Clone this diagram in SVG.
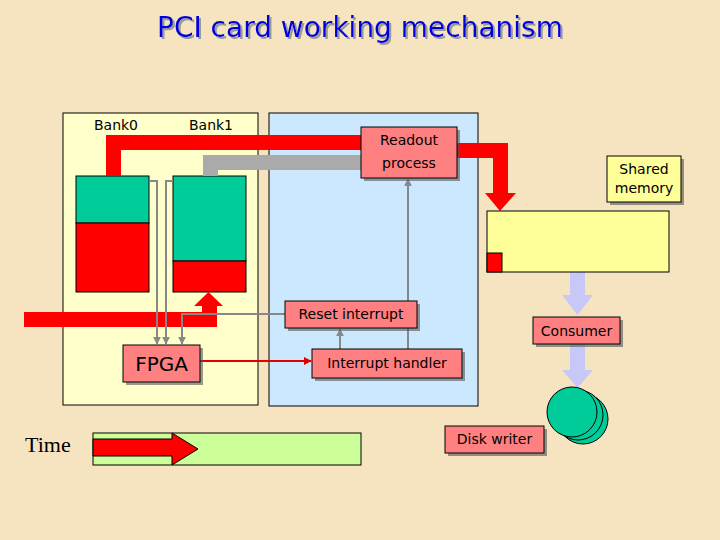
<svg xmlns="http://www.w3.org/2000/svg" width="720" height="540" viewBox="0 0 720 540">
<defs>
<style>
.t{font-family:"DejaVu Sans","Liberation Sans",sans-serif;fill:#000;}
.box{fill:#FF8080;stroke:#000;stroke-width:1;}
.sh{fill:#555;opacity:0.6;}
.gl{fill:none;stroke:#888;stroke-width:2;}
.teal{fill:#00CC99;stroke:#000;stroke-width:1;}
.red{fill:#FF0000;stroke:#000;stroke-width:1;}
</style>
<filter id="tsh" x="-5%" y="-20%" width="110%" height="150%">
<feDropShadow dx="2" dy="2" stdDeviation="0.5" flood-color="#999" flood-opacity="1"/>
</filter>
<marker id="ga" viewBox="0 0 10 10" refX="9" refY="5" markerWidth="4" markerHeight="4" orient="auto"><path d="M0,0 L10,5 L0,10 z" fill="#888"/></marker>
<marker id="ra" viewBox="0 0 10 10" refX="9" refY="5" markerWidth="4" markerHeight="4" orient="auto"><path d="M0,0 L10,5 L0,10 z" fill="#E00000"/></marker>
</defs>
<rect x="0" y="0" width="720" height="540" fill="#F6E4C0"/>
<text x="360" y="37" text-anchor="middle" font-family="DejaVu Sans, sans-serif" font-size="28" fill="#0000DD" filter="url(#tsh)">PCI card working mechanism</text>

<g id="card-panel">
<rect x="63" y="113" width="195" height="292" fill="#FFFFCC" stroke="#000" stroke-width="1"/>
<text class="t" x="116" y="130" text-anchor="middle" font-size="14">Bank0</text>
<text class="t" x="211" y="130" text-anchor="middle" font-size="14">Bank1</text>
</g>
<g id="host-panel">
<rect x="269" y="113" width="209" height="293" fill="#CCE8FF" stroke="#000" stroke-width="1"/>
</g>

<g id="bank0">
<rect class="teal" x="76" y="176" width="73" height="47"/>
<rect class="red" x="76" y="223" width="73" height="69"/>
</g>
<g id="bank1">
<rect class="teal" x="173" y="176" width="73" height="85"/>
<rect class="red" x="173" y="261" width="73" height="31"/>
</g>

<g id="connectors">
<polygon points="106,176 106,135 361,135 361,150 121,150 121,176" fill="#FF0000"/>
<polygon points="457,143 508,143 508,193 516,193 500,211 485,193 493,193 493,158 457,158" fill="#FF0000"/>
<polygon points="203,176 203,155 361,155 361,170 218,170 218,176" fill="#AAAAAA"/>
<polygon points="24,312 202,312 202,306 194,306 208.5,292 223,306 217,306 217,327 24,327" fill="#FF0000"/>
<path class="gl" d="M149,181 H157 V344" marker-end="url(#ga)"/>
<path class="gl" d="M173,181 H166 V344" marker-end="url(#ga)"/>
<path class="gl" d="M285,314 H182 V344" marker-end="url(#ga)"/>
<path class="gl" d="M340,349 V329" marker-end="url(#ga)"/>
<path class="gl" d="M408,349 V179" marker-end="url(#ga)"/>
<path d="M200,361 H311" fill="none" stroke="#E00000" stroke-width="2" marker-end="url(#ra)"/>
<polygon points="570,272 585,272 585,295 593,295 577.5,315 562,295 570,295" fill="#C8C8F8"/>
<polygon points="570,344 585,344 585,370 593,370 577.5,388 562,370 570,370" fill="#C8C8F8"/>
</g>

<g id="readout-process">
<rect class="sh" x="364" y="130" width="96" height="51"/>
<rect class="box" x="361" y="127" width="96" height="51"/>
<text class="t" x="409" y="145" text-anchor="middle" font-size="14">Readout</text>
<text class="t" x="409" y="168" text-anchor="middle" font-size="14">process</text>
</g>

<g id="shared-memory-label">
<rect class="sh" x="610" y="159" width="74" height="46"/>
<rect x="607" y="156" width="74" height="46" fill="#FFFF99" stroke="#000" stroke-width="1"/>
<text class="t" x="644" y="174" text-anchor="middle" font-size="14">Shared</text>
<text class="t" x="644" y="193" text-anchor="middle" font-size="14">memory</text>
</g>

<g id="shared-memory">
<rect x="487" y="211" width="182" height="61" fill="#FFFF99" stroke="#000" stroke-width="1"/>
<rect class="red" x="487" y="253" width="15" height="19"/>
</g>

<g id="consumer">
<rect class="sh" x="536" y="320" width="87" height="27"/>
<rect class="box" x="533" y="317" width="87" height="27"/>
<text class="t" x="576.5" y="336" text-anchor="middle" font-size="14">Consumer</text>
</g>

<g id="disks">
<circle cx="583" cy="419" r="25" fill="#00CC99" stroke="#000" stroke-width="1"/>
<circle cx="578" cy="415" r="25" fill="#00CC99" stroke="#000" stroke-width="1"/>
<circle cx="572" cy="412" r="25" fill="#00CC99" stroke="#000" stroke-width="1"/>
</g>

<g id="disk-writer">
<rect class="sh" x="448" y="429" width="99" height="27"/>
<rect class="box" x="445" y="426" width="99" height="27"/>
<text class="t" x="494.5" y="444" text-anchor="middle" font-size="14">Disk writer</text>
</g>

<g id="reset-interrupt">
<rect class="sh" x="288" y="304" width="132" height="27"/>
<rect class="box" x="285" y="301" width="132" height="27"/>
<text class="t" x="351" y="319" text-anchor="middle" font-size="14">Reset interrupt</text>
</g>

<g id="interrupt-handler">
<rect class="sh" x="315" y="352" width="150" height="29"/>
<rect class="box" x="312" y="349" width="150" height="29"/>
<text class="t" x="387" y="368" text-anchor="middle" font-size="14">Interrupt handler</text>
</g>

<g id="fpga">
<rect class="sh" x="126" y="348" width="77" height="37"/>
<rect class="box" x="123" y="345" width="77" height="37"/>
<text class="t" x="161.5" y="371" text-anchor="middle" font-size="20">FPGA</text>
</g>

<g id="time-bar">
<text x="25" y="452" font-family="Liberation Serif, serif" font-size="22" fill="#000">Time</text>
<rect x="93" y="433" width="268" height="32" fill="#CCFF99" stroke="#000" stroke-width="1"/>
<polygon points="93,439 172,439 172,433 198,449 172,465 172,456 93,456" fill="#FF0000" stroke="#000" stroke-width="1"/>
</g>
</svg>
